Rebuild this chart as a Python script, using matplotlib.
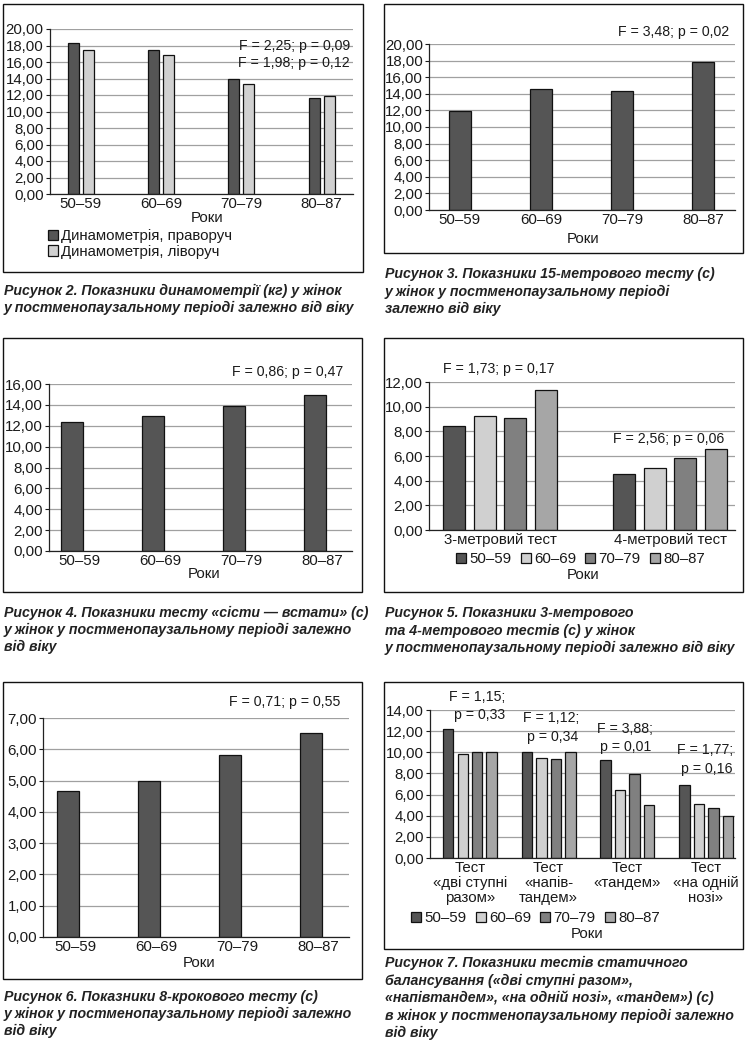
import matplotlib
matplotlib.use('Agg')
import matplotlib.pyplot as plt
from matplotlib.transforms import Affine2D
from matplotlib.patches import Rectangle
from matplotlib.ticker import FuncFormatter, MultipleLocator
import numpy as np

W, H = 746, 1044
plt.rcParams['font.family'] = ['Liberation Sans', 'DejaVu Sans']
FS = 10.8
FA = 10.2
plt.rcParams['font.size'] = FS

# ---------------- data ----------------
ages = ['50–59', '60–69', '70–79', '80–87']
age_colors = ['#555555', '#d0d0d0', '#808080', '#a6a6a6']

# Figure 2: dynamometry (kg)
dyn_right = [18.25, 17.4, 14.0, 11.6]
dyn_left = [17.5, 16.9, 13.3, 11.85]
dyn_labels = ['Динамометрія, праворуч', 'Динамометрія, ліворуч']
dyn_stats = ['F = 2,25; p = 0,09', 'F = 1,98; p = 0,12']

# Figure 3: 15-metre test (s)
test15 = [11.95, 14.55, 14.3, 17.8]
test15_stats = 'F = 3,48; p = 0,02'

# Figure 4: sit-to-stand (s)
sit_stand = [12.35, 12.9, 13.9, 14.95]
sit_stand_stats = 'F = 0,86; p = 0,47'

# Figure 5: 3-metre and 4-metre tests (s)
walk_tests = ['3-метровий тест', '4-метровий тест']
walk_3m = [8.4, 9.22, 9.05, 11.35]
walk_4m = [4.57, 5.05, 5.81, 6.54]
walk_stats = ['F = 1,73; p = 0,17', 'F = 2,56; p = 0,06']

# Figure 6: 8-step test (s)
step8 = [4.67, 5.0, 5.81, 6.51]
step8_stats = 'F = 0,71; p = 0,55'

# Figure 7: static balance tests (s)
bal_tests = ['Тест\n«дві ступні\nразом»', 'Тест\n«напів-\nтандем»',
             'Тест\n«тандем»', 'Тест\n«на одній\nнозі»']
bal_two_feet = [12.2, 9.8, 10.0, 10.0]
bal_semi = [10.0, 9.45, 9.35, 10.0]
bal_tandem = [9.25, 6.4, 7.9, 5.05]
bal_one_leg = [6.95, 5.15, 4.7, 4.0]
bal_stats = [('F = 1,15;', 'p = 0,33'), ('F = 1,12;', 'p = 0,34'),
             ('F = 3,88;', 'p = 0,01'), ('F = 1,77;', 'p = 0,16')]

captions = {
    2: ["Рисунок 2. Показники динамометрії (кг) у жінок",
        "у постменопаузальному періоді залежно від віку"],
    3: ["Рисунок 3. Показники 15-метрового тесту (с)",
        "у жінок у постменопаузальному періоді",
        "залежно від віку"],
    4: ["Рисунок 4. Показники тесту «сісти — встати» (с)",
        "у жінок у постменопаузальному періоді залежно",
        "від віку"],
    5: ["Рисунок 5. Показники 3-метрового",
        "та 4-метрового тестів (с) у жінок",
        "у постменопаузальному періоді залежно від віку"],
    6: ["Рисунок 6. Показники 8-крокового тесту (с)",
        "у жінок у постменопаузальному періоді залежно",
        "від віку"],
    7: ["Рисунок 7. Показники тестів статичного",
        "балансування («дві ступні разом»,",
        "«напівтандем», «на одній нозі», «тандем») (с)",
        "в жінок у постменопаузальному періоді залежно",
        "від віку"],
}
xlabel = 'Роки'

# ---------------- layout helpers ----------------
fig = plt.figure(figsize=(W / 100, H / 100), dpi=100)
PX = Affine2D().scale(1 / W, -1 / H).translate(0, 1) + fig.transFigure
TXT = '#1a1a1a'
GRID = '#a0a0a0'
fmt = FuncFormatter(lambda v, p: f'{v:.2f}'.replace('.', ','))


def frame(l, t, r, b):
    fig.patches.append(Rectangle((l / W, 1 - b / H), (r - l) / W, (b - t) / H,
                                 transform=fig.transFigure, fill=False,
                                 edgecolor='#111111', linewidth=1.0))


def make_ax(l, t, r, b, ymax, step, xlim):
    ax = fig.add_axes([l / W, 1 - b / H, (r - l) / W, (b - t) / H])
    ax.set_ylim(0, ymax)
    ax.set_xlim(*xlim)
    ax.yaxis.set_major_locator(MultipleLocator(step))
    ax.yaxis.set_major_formatter(fmt)
    ax.grid(axis='y', color=GRID, linewidth=0.9)
    ax.set_axisbelow(True)
    for s in ('top', 'right'):
        ax.spines[s].set_visible(False)
    for s in ('left', 'bottom'):
        ax.spines[s].set_color('#222222')
        ax.spines[s].set_linewidth(0.9)
    ax.tick_params(axis='y', length=3, width=0.8, pad=1.2, colors=TXT, labelsize=FS)
    ax.tick_params(axis='x', length=0, pad=2.5, colors=TXT, labelsize=FS)
    ax.set_facecolor('none')
    return ax


def set_xlab(ax, x, y):
    ax.set_xlabel(xlabel, fontsize=FS, color=TXT)
    ax.xaxis.label.set_va('center')
    ax.xaxis.set_label_coords(x, y, transform=PX)


def note(ax, x, y, s, ha):
    ax.text(x, y, s, transform=PX, ha=ha, va='center', color=TXT, fontsize=FA)


def caption(x, y0, dy, lines):
    for i, ln in enumerate(lines):
        fig.text(x, y0 + i * dy, ln, transform=PX, ha='left', va='center',
                 fontsize=10.2, fontweight='bold', fontstyle='italic', color='#222222')


LEG = dict(bbox_transform=PX, frameon=False, borderpad=0, borderaxespad=0,
           handlelength=0.68, handleheight=0.68, handletextpad=0.2,
           fontsize=FS, labelcolor=TXT)

bar_kw = dict(edgecolor='#111111', linewidth=0.9)
x4 = np.arange(len(ages))

# ---------------- Figure 2 ----------------
frame(3, 4, 363, 272)
ax = make_ax(49.5, 29, 353, 194, 20, 2, (-0.39, 3.39))
b1 = ax.bar(x4 - 0.093, dyn_right, 0.137, color=age_colors[0], **bar_kw)
b2 = ax.bar(x4 + 0.093, dyn_left, 0.137, color=age_colors[1], **bar_kw)
ax.set_xticks(x4, ages)
set_xlab(ax, 207, 218)
note(ax, 350, 46, dyn_stats[0], 'right')
note(ax, 350, 63, dyn_stats[1], 'right')
ax.legend([b1, b2], dyn_labels, loc='center left', bbox_to_anchor=(48, 244),
          labelspacing=0.12, **LEG)
caption(4, 291, 17, captions[2])

# ---------------- Figure 3 ----------------
frame(384, 4, 743, 253)
ax = make_ax(429, 44, 735, 210, 20, 2, (-0.38, 3.39))
ax.bar(x4, test15, 0.27, color=age_colors[0], **bar_kw)
ax.set_xticks(x4, ages)
set_xlab(ax, 583, 239)
note(ax, 729, 32, test15_stats, 'right')
caption(385, 274, 17.5, captions[3])

# ---------------- Figure 4 ----------------
frame(3, 338, 362, 592)
ax = make_ax(49, 384, 352, 551, 16, 2, (-0.37, 3.37))
ax.bar(x4 - 0.086, sit_stand, 0.27, color=age_colors[0], **bar_kw)
ax.set_xticks(x4, ages)
set_xlab(ax, 204, 574)
note(ax, 343, 372, sit_stand_stats, 'right')
caption(4, 613, 17, captions[4])

# ---------------- Figure 5 ----------------
frame(384, 338, 743, 592)
ax = make_ax(429, 382, 735, 530, 12, 2, (-0.418, 1.382))
x2 = np.arange(len(walk_tests))
handles = []
for i, age in enumerate(ages):
    vals = [walk_3m[i], walk_4m[i]]
    h = ax.bar(x2 + (i - 1.5) * 0.18, vals, 0.13, color=age_colors[i], **bar_kw)
    handles.append(h)
ax.set_xticks(x2, walk_tests)
set_xlab(ax, 583, 575)
note(ax, 499, 369, walk_stats[0], 'center')
note(ax, 669, 439, walk_stats[1], 'center')
ax.legend(handles, ages, loc='center left', bbox_to_anchor=(456, 559), ncol=4,
          columnspacing=0.62, **LEG)
caption(385, 613, 17.5, captions[5])

# ---------------- Figure 6 ----------------
frame(3, 682, 362, 979)
ax = make_ax(43, 718, 349, 937, 7, 1, (-0.395, 3.38))
ax.bar(x4 - 0.084, step8, 0.27, color=age_colors[0], **bar_kw)
ax.set_xticks(x4, ages)
set_xlab(ax, 199, 963)
note(ax, 340, 702, step8_stats, 'right')
caption(4, 997, 17, captions[6])

# ---------------- Figure 7 ----------------
frame(384, 682, 743, 949)
ax = make_ax(430, 710, 735, 858, 14, 2, (-0.508, 3.368))
bal_series = [bal_two_feet, bal_semi, bal_tandem, bal_one_leg]
handles = []
for i, age in enumerate(ages):
    vals = [s[i] for s in bal_series]
    h = ax.bar(x4 + (i - 1.5) * 0.184, vals, 0.133, color=age_colors[i], **bar_kw)
    handles.append(h)
ax.set_xticks(x4, bal_tests)
for lbl in ax.get_xticklabels():
    lbl.set_linespacing(1.1)
ax.tick_params(axis='x', pad=2)
set_xlab(ax, 587, 934)
stat_pos = [(477, 697, 480, 715), (551, 718, 553, 737),
            (625, 729, 626, 747), (705, 750, 707, 769)]
for (fs, ps), (xf, yf, xp, yp) in zip(bal_stats, stat_pos):
    note(ax, xf, yf, fs, 'center')
    note(ax, xp, yp, ps, 'center')
ax.legend(handles, ages, loc='center left', bbox_to_anchor=(411, 918), ncol=4,
          columnspacing=0.62, **LEG)
caption(385, 963, 17.5, captions[7])

fig.savefig('out.png', dpi=100)
